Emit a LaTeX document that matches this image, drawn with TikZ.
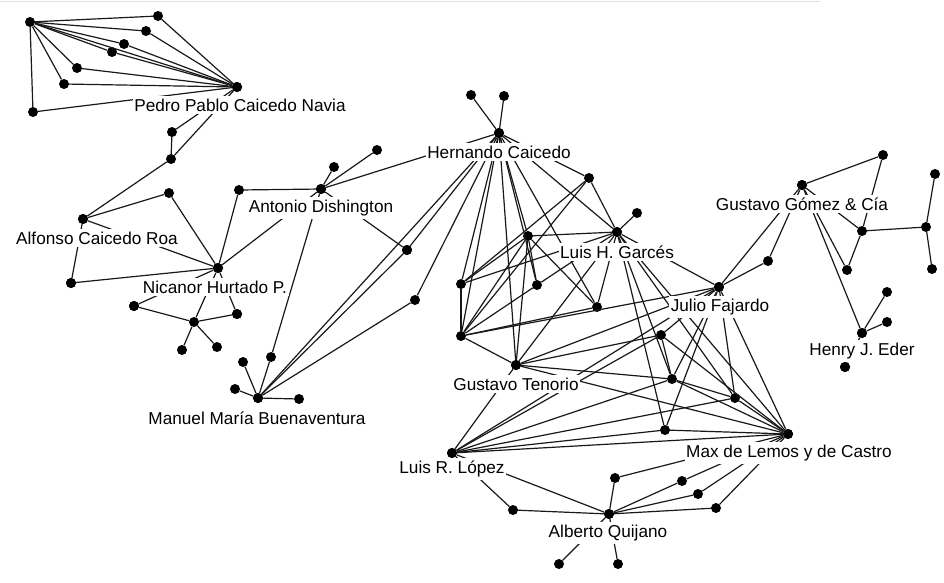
\documentclass[tikz,border=0pt]{standalone}
\usepackage{fontspec}
\setmainfont{Liberation Sans}
\begin{document}
\begin{tikzpicture}[x=1pt,y=-1pt,
  dot/.style={circle,fill=black,inner sep=0pt,minimum size=10pt},
  lab/.style={fill=white,inner xsep=1.5pt,inner ysep=3pt,font=\fontsize{17.2}{18}\selectfont},
  edge/.style={draw=black!90,line width=1.2pt}]
\useasboundingbox (0,0) rectangle (944,582);
\fill[white] (0,0) rectangle (944,582);
\draw[black!12,line width=1pt] (0,1) -- (820,1);
% nodes
\foreach \n/\x/\y in {P0/30/22,a1/158/16,a2/146/31,a3/124/44,a4/112/52,a5/77/68,a6/64/84,a7/33/112,PP/237/87,b1/172/132,b2/171/159,
 ACR/83/219,c1/169/193,c2/71/283,NH/218/268,c3/239/190,d0/194/322,d1/134/306,d2/237/314,d3/182/350,d4/217/347,
 MMB/258/398,e1/243/362,e2/235/389,e3/299/399,e4/271/357,
 AD/321/189,g1/334/167,g2/377/150,f1/407/250,f2/415/300,
 HC/499/133,h1/471/95,h2/504/96,
 i1/589/178,LHG/617/232,i2/637/213,i3/528/236,i4/461/284,i5/537/285,i6/597/307,i7/461/336,
 GT/516/365,JF/719/287,j1/768/261,k1/661/335,k2/672/379,k3/735/398,k4/665/430,MLC/788/434,
 LRL/452/453,AQ/609/514,l1/513/510,l2/615/478,l3/682/481,l4/698/494,l5/716/508,l6/559/564,l7/618/564,
 GG/802/185,m1/883/155,m2/862/231,m3/926/227,m4/935/174,m5/932/269,m6/847/270,
 HE/862/333,n1/887/292,n2/887/322,n3/845/367}
  \node[dot] (\n) at (\x,\y) {};
% edges
\foreach \a/\b in {P0/a1,a1/PP,P0/a2,a2/PP,P0/a3,a3/PP,P0/a4,a4/PP,P0/a5,a5/PP,P0/a6,a6/PP,P0/a7,a7/PP,P0/PP,
 PP/b1,PP/b2,b1/b2,b2/ACR,
 ACR/c1,c1/NH,ACR/NH,ACR/c2,c2/NH,c3/NH,c3/AD,NH/AD,NH/d0,NH/d1,NH/d2,d0/d1,d0/d2,d0/d3,d0/d4,
 MMB/e1,MMB/e2,MMB/e3,MMB/e4,e4/AD,MMB/HC,MMB/f1,f1/HC,f1/AD,MMB/f2,f2/HC,
 AD/g1,AD/g2,AD/HC,
 HC/h1,HC/h2,HC/i4,HC/i7,HC/GT,HC/i3,HC/i5,HC/i6,HC/LHG,HC/i1,
 i3/LHG,i3/i4,i3/i7,i3/GT,i3/i5,i3/i6,i4/i7,i4/LHG,i1/LHG,i1/i4,i1/i7,i7/i5,i5/LHG,i6/LHG,i6/i7,i7/GT,LHG/i2,LHG/GT,i7/JF,
 LHG/JF,LHG/k2,LHG/k4,LHG/k3,LHG/MLC,
 GT/LRL,GT/JF,GT/k1,GT/k2,GT/MLC,
 JF/LRL,JF/k1,JF/k2,JF/k3,JF/k4,JF/MLC,JF/GG,JF/j1,j1/GG,
 k1/LRL,k1/k2,k1/MLC,k2/k3,k2/MLC,k2/LRL,k3/MLC,k3/LRL,k4/LRL,k4/MLC,LRL/MLC,
 LRL/AQ,LRL/l1,l1/AQ,AQ/l2,AQ/l3,AQ/l4,AQ/l5,l2/MLC,l3/MLC,l4/MLC,l5/MLC,AQ/l6,AQ/l7,
 GG/m1,m1/m2,GG/m2,m2/m3,m3/m4,m3/m5,m2/m6,GG/m6,GG/HE,HE/n1,HE/n2,HE/n3}
  \draw[edge] (\a) -- (\b);
% labels
\node[lab] (PPl) at (240,105) {Pedro Pablo Caicedo Navia};
\node[lab] (ACRl) at (97,238) {Alfonso Caicedo Roa};
\node[lab] (NHl) at (215,287) {Nicanor Hurtado P.};
\node[lab] (ADl) at (321,208) {Antonio Dishington};
\node[lab] (MMBl) at (257,418) {Manuel María Buenaventura};
\node[lab] (HCl) at (499,152) {Hernando Caicedo};
\node[lab] (LHGl) at (617,252) {Luis H. Garcés};
\node[lab] (JFl) at (720,307) {Julio Fajardo};
\node[lab] (GGl) at (802,204) {Gustavo Gómez \& Cía};
\node[lab] (HEl) at (862,351) {Henry J. Eder};
\node[lab] (GTl) at (516,384) {Gustavo Tenorio};
\node[lab] (MLCl) at (789,453) {Max de Lemos y de Castro};
\node[lab] (LRLl) at (452,469) {Luis R. López};
\node[lab] (AQl) at (608,533) {Alberto Quijano};
% redraw dots that touch labels
\foreach \n in {PP,ACR,NH,AD,MMB,HC,LHG,JF,GG,HE,GT,MLC,LRL,AQ,n3,d1,d2,c2,f1}
  \node[dot] at (\n) {};
\end{tikzpicture}
\end{document}
